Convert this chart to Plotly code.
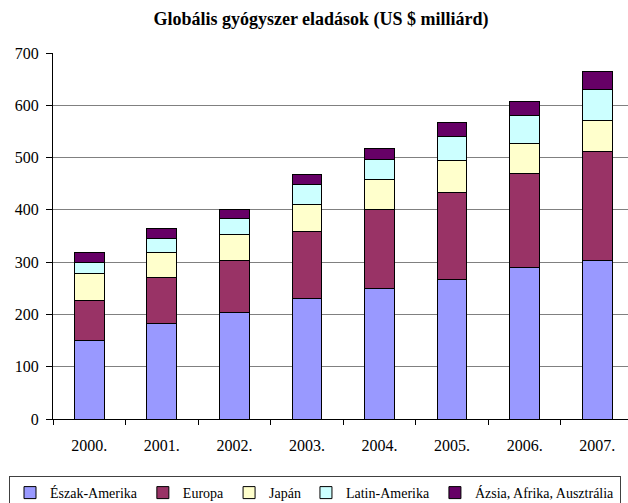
import plotly.graph_objects as go

# Global pharmaceutical sales by region, billion USD
years = ["2000.", "2001.", "2002.", "2003.", "2004.", "2005.", "2006.", "2007."]
eszak_amerika = [151, 182, 204, 230, 249, 266, 290, 304]
europa = [75, 89, 100, 129, 152, 168, 180, 207]
japan = [52, 47, 48, 52, 58, 61, 57, 60]
latin_amerika = [21, 27, 32, 37, 38, 46, 53, 59]
azsia_afrika_ausztralia = [19, 19, 17, 19, 20, 27, 28, 34]

series = [
    ("Észak-Amerika", eszak_amerika, "#9999FF"),
    ("Europa", europa, "#993366"),
    ("Japán", japan, "#FFFFCC"),
    ("Latin-Amerika", latin_amerika, "#CCFFFF"),
    ("Ázsia, Afrika, Ausztrália", azsia_afrika_ausztralia, "#660066"),
]

FONT = "Liberation Serif"

fig = go.Figure()
for name, vals, color in series:
    fig.add_trace(go.Bar(
        x=years, y=vals, name=name,
        marker=dict(color=color, line=dict(color="black", width=1)),
        width=0.41,
    ))

W, H = 628, 503
L, T, B = 53, 53, 84
plot_h = H - T - B

fig.update_layout(
    width=W, height=H,
    barmode="stack",
    margin=dict(l=L, r=0, t=T, b=B, autoexpand=False),
    paper_bgcolor="white", plot_bgcolor="white",
    font=dict(family=FONT, size=15, color="black"),
    title=dict(
        text="<b>Globális gyógyszer eladások (US $ milliárd)</b>",
        font=dict(family=FONT, size=18, color="black"),
        x=321 / W, xref="container", xanchor="center",
        y=1 - 19 / H, yref="container", yanchor="middle",
    ),
    xaxis=dict(
        range=[-0.5, 7.424],
        showline=True, linecolor="black", linewidth=1,
        ticks="outside", tickson="boundaries", ticklen=5, tickcolor="black",
        showgrid=False, tickfont=dict(family=FONT, size=16),
        ticklabelstandoff=12,
        fixedrange=True,
    ),
    yaxis=dict(
        range=[0, 700], dtick=100,
        showline=True, linecolor="black", linewidth=1,
        ticks="outside", ticklen=6, tickcolor="black",
        showgrid=True, gridcolor="#808080", gridwidth=1,
        zeroline=False,
        tickfont=dict(family=FONT, size=16),
        ticklabelstandoff=4,
    ),
    legend=dict(
        orientation="h",
        x=(9 - L) / (W - L), xanchor="left",
        y=(H - B - 476) / plot_h, yanchor="top",
        bordercolor="#404040", borderwidth=1, bgcolor="white",
        font=dict(family=FONT, size=14),
        itemwidth=30, traceorder="normal",
    ),
    showlegend=True,
)

fig.write_html("out.html")
